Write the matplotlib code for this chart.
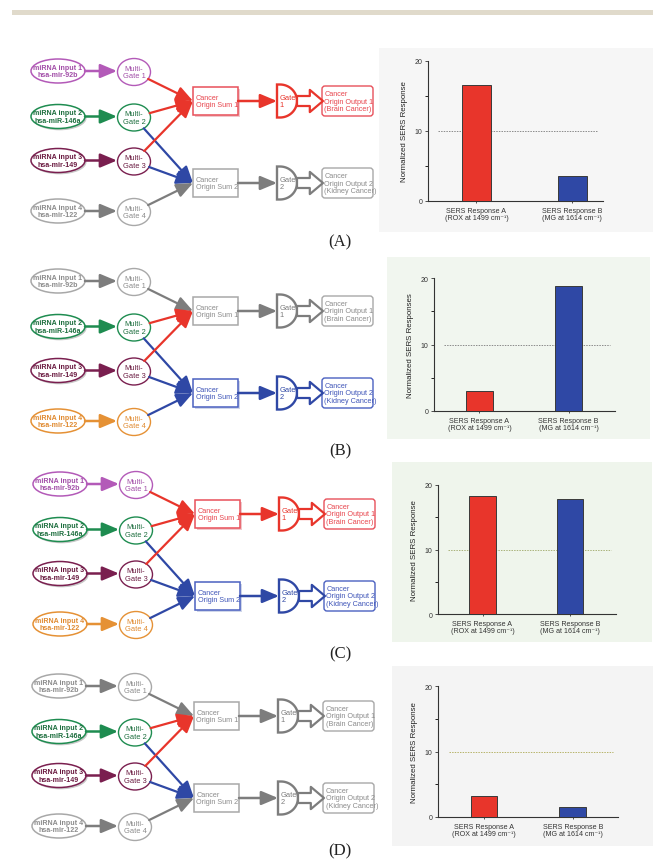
import numpy as np
import matplotlib
matplotlib.use("Agg")
import matplotlib.pyplot as plt
from matplotlib.patches import Ellipse, Rectangle, FancyBboxPatch, FancyArrowPatch, PathPatch, ArrowStyle
from matplotlib.path import Path
from matplotlib.ticker import MultipleLocator

plt.rcParams['font.family'] = ['Liberation Sans', 'DejaVu Sans']

# ---- content ----
panel_labels = ["(A)", "(B)", "(C)", "(D)"]
input_labels = ["miRNA input 1\nhsa-mir-92b", "miRNA input 2\nhsa-miR-146a",
                "miRNA input 3\nhsa-mir-149", "miRNA input 4\nhsa-mir-122"]
gate_labels = ["Multi-\nGate 1", "Multi-\nGate 2", "Multi-\nGate 3", "Multi-\nGate 4"]
sum_labels = ["Cancer\nOrigin Sum 1", "Cancer\nOrigin Sum 2"]
logic_labels = ["Gate\n1", "Gate\n2"]
output_labels = ["Cancer\nOrigin Output 1\n(Brain Cancer)", "Cancer\nOrigin Output 2\n(Kidney Cancer)"]
inputs_present = [[1, 1, 1, 0], [0, 1, 1, 1], [1, 1, 1, 1], [0, 1, 1, 0]]
outputs_on = [[1, 0], [0, 1], [1, 1], [0, 0]]

bar_categories = ["SERS Response A\n(ROX at 1499 cm\u207b\u00b9)", "SERS Response B\n(MG at 1614 cm\u207b\u00b9)"]
sers_a = [16.6, 3.0, 18.3, 3.2]
sers_b = [3.6, 18.8, 17.9, 1.5]
threshold = 10
y_titles = ["Normalized SERS Response", "Normalized SERS Responses",
            "Normalized SERS Response", "Normalized SERS Response"]

# ---- style ----
W, H = 653, 862
RED, BLUE = "#e8352b", "#2f48a5"
GRAY_LINE, GRAY_EDGE, GRAY_TEXT = "#7d7d7d", "#a8a8a8", "#8c8c8c"
input_edge = ["#b35ab8", "#1e8c50", "#7a1f4f", "#e59135"]
input_text = ["#a24ea8", "#1d6e3e", "#6a1a40", "#e08a30"]
bar_colors = [RED, BLUE]
bg_boxes = [(379, 49, 653, 233, "#f6f6f6"), (387, 258, 650, 440, "#f1f6ef"),
            (392, 463, 652, 643, "#eff5ec"), (392, 667, 653, 847, "#f4f4f4")]
axes_px = [(428, 62, 603, 202), (434, 279, 615, 412), (438, 486, 616, 615), (438, 687, 618, 818)]
xlims = [(-0.505, 1.32), (-0.51, 1.52), (-0.51, 1.53), (-0.52, 1.51)]
thr_colors = ["#8a8a8a", "#8a8a8a", "#a9b27a", "#b7b46a"]
panel_dy = [0, 210, 413, 615]
panel_dx = [0, 0, 2, 1]
label_y = [242, 451, 654, 851]

fig = plt.figure(figsize=(W / 100, H / 100), dpi=100)
dg = fig.add_axes([0, 0, 1, 1])
dg.set_xlim(0, W)
dg.set_ylim(H, 0)
dg.axis("off")

# header rule
dg.add_patch(Rectangle((12, 11), W - 12, 5, color="#e0dacb", lw=0))

for x0, y0, x1, y1, c in bg_boxes:
    dg.add_patch(Rectangle((x0, y0), x1 - x0, y1 - y0, color=c, lw=0, zorder=0))


def arrow(p0, p1, color, lw=1.6):
    dg.add_patch(FancyArrowPatch(p0, p1, arrowstyle="-|>,head_length=1.0,head_width=0.42",
                                 mutation_scale=10, color=color, lw=lw,
                                 shrinkA=0, shrinkB=0, zorder=3))


def edge_point(cx, cy, rx, ry, tx, ty):
    ang = np.arctan2((ty - cy) / ry, (tx - cx) / rx)
    return cx + rx * np.cos(ang), cy + ry * np.sin(ang)


row_y = [72, 117.5, 161.5, 212]
sum_y = [102, 184]

for p in range(4):
    dy, dx = panel_dy[p], panel_dx[p]
    on_in = inputs_present[p]
    on_out = outputs_on[p]
    # inputs and multi-gates
    for i in range(4):
        y = row_y[i] + dy
        ec = input_edge[i] if on_in[i] else GRAY_EDGE
        tc = input_text[i] if on_in[i] else GRAY_TEXT
        lc = input_edge[i] if on_in[i] else GRAY_LINE
        cx = 58 + dx
        if i in (1, 2):
            dg.add_patch(Ellipse((cx + 1.5, y + 1.8), 54, 24, fc="#c8c8c8", ec="none", zorder=1))
        dg.add_patch(Ellipse((cx, y), 54, 24, fc="white", ec=ec, lw=1.1, zorder=2))
        dg.text(cx, y, input_labels[i], ha="center", va="center", fontsize=5.1, fontweight="bold",
                color=tc, linespacing=1.15, zorder=4)
        arrow((cx + 27, y), (117 + dx, y), lc, lw=1.8)
        gx = 134 + dx
        dg.add_patch(Ellipse((gx, y + 1), 33, 27, fc="white", ec=ec, lw=1.0, zorder=2))
        dg.text(gx, y + 1, gate_labels[i], ha="center", va="center", fontsize=5.4,
                color=tc, linespacing=1.15, zorder=4)
    # multi-gate -> sums
    links = [(0, 0, RED if on_in[0] else GRAY_LINE), (1, 0, RED), (1, 1, BLUE),
             (2, 0, RED), (2, 1, BLUE), (3, 1, BLUE if on_in[3] else GRAY_LINE)]
    for gi, si, c in links:
        gx, gy = 134 + dx, row_y[gi] + dy + 1
        tx, ty = 193 + dx, sum_y[si] + dy
        sx, sy = edge_point(gx, gy, 16.5, 13.5, tx, ty)
        arrow((sx, sy), (tx, ty), c, lw=1.6)
    # sums, logic gates, outputs
    for s in range(2):
        y = sum_y[s] + dy
        active = on_out[s]
        col = (RED if s == 0 else BLUE) if active else GRAY_LINE
        box_ec = ("#e8505a" if s == 0 else "#4a60c0") if active else GRAY_EDGE
        txt_c = ("#e8454d" if s == 0 else "#3f55b8") if active else GRAY_TEXT
        bx = 193 + dx
        bw = 45
        if active:
            dg.add_patch(Rectangle((bx + 1.5, y - 14 + 1.5), bw, 28, fc="#cfd6ea" if s else "#f0c8cc",
                                   ec="none", zorder=1))
        dg.add_patch(Rectangle((bx, y - 14), bw, 28, fc="white", ec=box_ec, lw=1.1, zorder=2))
        dg.text(bx + 2.5, y, sum_labels[s], ha="left", va="center", fontsize=5.2, color=txt_c,
                linespacing=1.15, zorder=4)
        arrow((bx + bw, y), (277 + dx, y), col, lw=1.8)
        # D-shaped gate
        gx0, flat, rx, ry = 277 + dx, 3, 17, 16.5
        t = np.linspace(-np.pi / 2, np.pi / 2, 40)
        verts = [(gx0, y - ry), (gx0 + flat, y - ry)]
        verts += list(zip(gx0 + flat + rx * np.cos(t), y + ry * np.sin(t)))
        verts += [(gx0 + flat, y + ry), (gx0, y + ry), (gx0, y - ry)]
        codes = [Path.MOVETO] + [Path.LINETO] * (len(verts) - 2) + [Path.CLOSEPOLY]
        dg.add_patch(PathPatch(Path(verts, codes), fc="white", ec=col, lw=1.7, zorder=2))
        dg.text(gx0 + 2.5, y, logic_labels[s], ha="left", va="center", fontsize=5.4, color=col,
                linespacing=1.15, zorder=4)
        # hollow block arrow
        dg.add_patch(FancyArrowPatch((gx0 + 20, y), (gx0 + 46, y),
                                     arrowstyle=ArrowStyle.Simple(head_length=0.95, head_width=1.6,
                                                                  tail_width=0.72),
                                     mutation_scale=10, fc="white", ec=col, lw=1.6,
                                     shrinkA=0, shrinkB=0, zorder=3))
        ox = 322 + dx
        dg.add_patch(FancyBboxPatch((ox, y - 15), 51, 30, boxstyle="round,pad=0,rounding_size=3",
                                    fc="white", ec=box_ec, lw=1.0, zorder=2))
        dg.text(ox + 2.5, y, output_labels[s], ha="left", va="center", fontsize=5.2, color=txt_c,
                linespacing=1.1, zorder=4)
    dg.text(340, label_y[p], panel_labels[p], ha="center", va="center", fontsize=12,
            family=["Liberation Serif", "DejaVu Serif"], color="#222222")

# ---- SERS bar charts ----
for p in range(4):
    l, t, r, b = axes_px[p]
    ax = fig.add_axes([l / W, 1 - b / H, (r - l) / W, (b - t) / H])
    ax.patch.set_alpha(0)
    vals = [sers_a[p], sers_b[p]]
    ax.bar([0, 1], vals, width=0.30, color=bar_colors, edgecolor="#3a3a3a", lw=0.7, zorder=3)
    xmin, xmax = xlims[p]
    ax.hlines(threshold, -0.4, xmax - 0.06, colors=thr_colors[p], lw=0.7,
              linestyles=(0, (1.5, 1.2)), zorder=2)
    ax.set_xlim(xmin, xmax)
    ax.set_ylim(0, 20)
    ax.yaxis.set_major_locator(MultipleLocator(10))
    ax.yaxis.set_minor_locator(MultipleLocator(5))
    ax.set_xticks([0, 1])
    ax.set_xticklabels(bar_categories, fontsize=5.1, linespacing=1.1, color="#222222")
    ax.tick_params(axis="y", labelsize=5, length=2.5, width=0.6, pad=1.5, colors="#333333")
    ax.tick_params(axis="y", which="minor", length=2.5, width=0.6)
    ax.tick_params(axis="x", length=1.5, width=0.6, pad=2.5, colors="#333333")
    for side in ("top", "right"):
        ax.spines[side].set_visible(False)
    for side in ("left", "bottom"):
        ax.spines[side].set_linewidth(0.8)
        ax.spines[side].set_color("#333333")
    ax.set_ylabel(y_titles[p], fontsize=5.7, labelpad=5, color="#222222")

fig.savefig("out.png", dpi=100)
